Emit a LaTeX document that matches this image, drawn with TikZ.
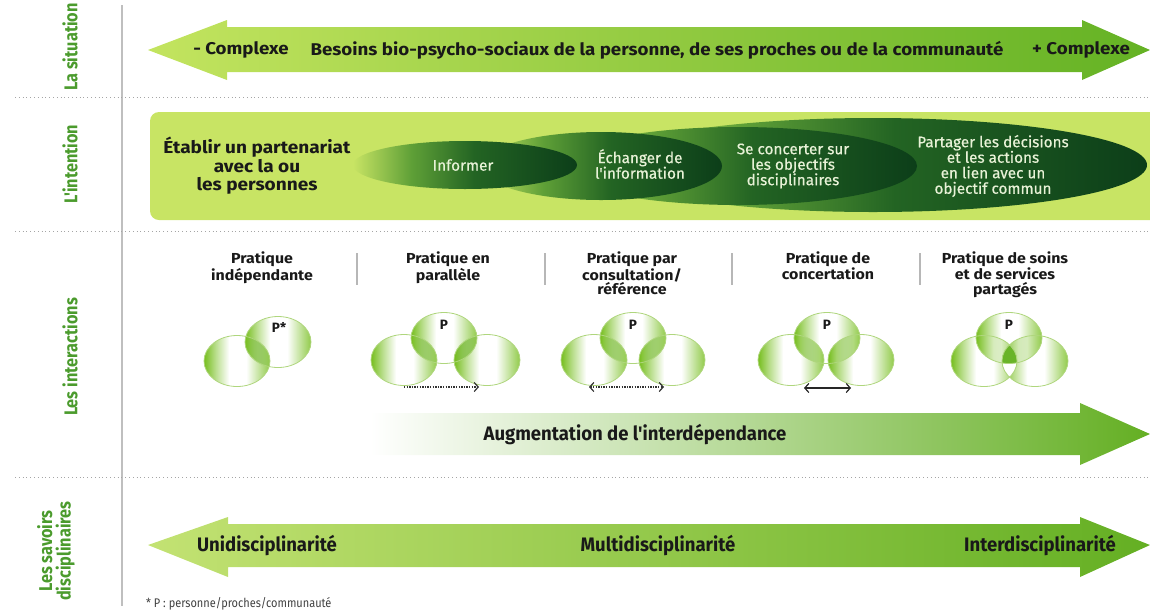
\documentclass[tikz,border=0pt]{standalone}
\usepackage{fontspec}
\setmainfont{Fira Sans}
\newfontfamily\condfont[FakeStretch=0.88]{Fira Sans}
\newfontfamily\cndfont[FakeStretch=0.95]{Fira Sans}
\newfontfamily\widefont[FakeStretch=1.1]{Fira Sans}
\newfontfamily\medfont[FakeBold=0.5]{Fira Sans}
\usetikzlibrary{arrows.meta}
\definecolor{lab}{RGB}{75,155,45}
\definecolor{txt}{RGB}{25,25,25}
\definecolor{arrL}{RGB}{195,228,95}
\definecolor{arrR}{RGB}{100,178,36}
\definecolor{band}{RGB}{200,228,100}
\definecolor{dgA}{RGB}{95,160,55}
\definecolor{dgB}{RGB}{35,100,35}
\definecolor{dgC}{RGB}{12,62,25}
\definecolor{etxt}{RGB}{232,242,215}
\definecolor{vg}{RGB}{118,190,30}
\definecolor{vout}{RGB}{175,214,125}
\definecolor{sepgray}{RGB}{165,165,165}
\definecolor{augR}{RGB}{100,175,35}
\definecolor{botL}{RGB}{195,226,115}
\definecolor{vcore}{RGB}{105,180,40}

\pgfdeclarehorizontalshading{darkell}{100bp}{color(0bp)=(band); color(25bp)=(band); color(38bp)=(dgA); color(52bp)=(dgB); color(75bp)=(dgC); color(100bp)=(dgC)}
\pgfdeclarehorizontalshading{venn}{100bp}{color(0bp)=(vg); color(25bp)=(vg); color(34bp)=(vg!50!white); color(44bp)=(white); color(57bp)=(white); color(67bp)=(vg!45!white); color(75bp)=(vg!80!white); color(100bp)=(vg!80!white)}

\tikzset{
  lbl/.style={text=lab, font=\condfont\bfseries\fontsize{18.5}{19.5}\selectfont, rotate=90, inner sep=0pt, align=center},
  toptxt/.style={text=txt, font=\widefont\bfseries\fontsize{17}{20}\selectfont, inner sep=0pt},
  inttxt/.style={text=txt, font=\widefont\bfseries\fontsize{17.3}{18.5}\selectfont, inner sep=0pt, align=center},
  elltxt/.style={text=etxt, font=\medfont\fontsize{15.3}{15.5}\selectfont, inner sep=0pt, align=center},
  headtxt/.style={text=txt, font=\widefont\bfseries\fontsize{14.5}{14.5}\selectfont, inner sep=0pt, align=center, anchor=north},
  ptxt/.style={text=txt, font=\bfseries\fontsize{13.5}{14}\selectfont, inner sep=0pt},
  condtxt/.style={text=txt, font=\cndfont\bfseries\fontsize{19.5}{20}\selectfont, inner sep=0pt},
  sepline/.style={sepgray, line width=1pt, dash pattern=on 1pt off 2.8pt},
  colsep/.style={draw=sepgray!80, line width=1.6pt},
  vennfill/.style={shading=venn, blend mode=multiply},
  vennline/.style={draw=vout, line width=0.8pt},
  dotone/.style={line width=1.3pt, black!80, dash pattern=on 1.3pt off 1.3pt, -{Straight Barb[length=4pt,width=9pt,line width=1.2pt]}},
  dottwo/.style={line width=1.3pt, black!80, dash pattern=on 1.3pt off 1.3pt, {Straight Barb[length=4pt,width=9pt,line width=1.2pt]}-{Straight Barb[length=4pt,width=9pt,line width=1.2pt]}},
  plainarr/.style={line width=1.2pt, black!85, {Straight Barb[length=4pt,width=9pt]}-{Straight Barb[length=4pt,width=9pt]}}
}

\begin{document}
\begin{tikzpicture}[x=1pt,y=-1pt]
\useasboundingbox (0,0) rectangle (1150,611);

% frame lines
\draw[black!25, line width=1.5pt] (122,5) -- (122,606);
\draw[sepline] (15,97) -- (1150,97);
\draw[sepline] (15,231) -- (1150,231);
\draw[sepline] (15,477) -- (1150,477);

% left labels
\node[lbl] (lsit) at (70,47) {La situation};
\node[lbl] (lint) at (70,164) {L'intention};
\node[lbl] (linter) at (70,357) {Les interactions};
\node[lbl] (lsav) at (56,551) {Les savoirs\\[-1pt]disciplinaires};

% top arrow
\shade[left color=arrL, right color=arrR] (148,50) -- (227,20) -- (227,27) -- (1082,27) -- (1082,20) -- (1150,50) -- (1082,80) -- (1082,72) -- (227,72) -- (227,80) -- cycle;
\node[toptxt] (tminus) at (241,50) {- Complexe};
\node[toptxt] (tbes) at (657,50) {Besoins bio-psycho-sociaux de la personne, de ses proches ou de la communauté};
\node[toptxt] (tplus) at (1081,50) {+ Complexe};

% intention band
\begin{scope}
  \clip (0,0) rectangle (1150,611);
  \fill[band, rounded corners=9pt] (150,112) rectangle (1170,220);
\end{scope}
\shade[shading=darkell] (873,165) ellipse [x radius=274pt, y radius=47pt];
\shade[shading=darkell] (738,166) ellipse [x radius=179pt, y radius=39pt];
\shade[shading=darkell] (601,166) ellipse [x radius=121pt, y radius=34pt];
\shade[shading=darkell] (465,165) ellipse [x radius=112pt, y radius=24pt];
\node[inttxt] (etab) at (257,166) {Établir un partenariat\\avec la ou\\les personnes};
\node[elltxt] (einf) at (463,165) {Informer};
\node[elltxt] (eech) at (640,164) {Échanger de\\l'information};
\node[elltxt] (econ) at (793,166) {Se concerter sur\\les objectifs\\disciplinaires};
\node[elltxt] (epar) at (993,166) {Partager les décisions\\et les actions\\en lien avec un\\objectif commun};

% interaction headers
\node[headtxt] (h1) at (262,252) {Pratique\\indépendante};
\node[headtxt] (h2) at (448,252) {Pratique en\\parallèle};
\node[headtxt] (h3) at (632,252) {Pratique par\\consultation/\\référence};
\node[headtxt] (h4) at (828,252) {Pratique de\\concertation};
\node[headtxt] (h5) at (1005,252) {Pratique de soins\\et de services\\partagés};
\draw[colsep] (357,253) -- (357,285);
\draw[colsep] (545,253) -- (545,285);
\draw[colsep] (732,253) -- (732,285);
\draw[colsep] (920,253) -- (920,285);

% venn shapes
\foreach \c/\cy in {237/361, 278/342, 404/360, 444/338, 487/360, 594/360, 633/338, 672/360, 791/360, 827/338, 861/360, 984/361, 1009/338, 1035/361}{
  \shade[vennfill] (\c,\cy) ellipse [x radius=33pt, y radius=25.5pt];}
\begin{scope}
  \clip (984,361) ellipse [x radius=33pt, y radius=25.5pt];
  \clip (1035,361) ellipse [x radius=33pt, y radius=25.5pt];
  \fill[white] (950,300) rectangle (1070,400);
  \clip (1009,338) ellipse [x radius=33pt, y radius=25.5pt];
  \fill[vcore] (950,300) rectangle (1070,400);
\end{scope}
\foreach \c/\cy in {237/361, 278/342, 404/360, 444/338, 487/360, 594/360, 633/338, 672/360, 791/360, 827/338, 861/360, 984/361, 1009/338, 1035/361}{
  \draw[vennline] (\c,\cy) ellipse [x radius=33pt, y radius=25.5pt];}
\node[ptxt] (p1) at (279,327) {P*};
\node[ptxt] (p2) at (444,325) {P};
\node[ptxt] (p3) at (633,325) {P};
\node[ptxt] (p4) at (827,325) {P};
\node[ptxt] (p5) at (1009,325) {P};

\coordinate (a2s) at (404,387); \coordinate (a2e) at (479,387);
\coordinate (a3s) at (589,387); \coordinate (a3e) at (664,387);
\coordinate (a4s) at (804,388); \coordinate (a4e) at (851,388);
\draw[dotone] (a2s) -- (a2e);
\draw[dottwo] (a3s) -- (a3e);
\draw[plainarr] (a4s) -- (a4e);

% augmentation arrow
\shade[left color=white, right color=augR] (370,413) -- (1080,413) -- (1080,403) -- (1150,434) -- (1080,465) -- (1080,455) -- (370,455) -- cycle;
\node[condtxt] (aug) at (635,435) {Augmentation de l'interdépendance};

% bottom arrow
\shade[left color=botL, right color=augR] (148,545) -- (228,517) -- (228,524) -- (1080,524) -- (1080,517) -- (1150,545) -- (1080,577) -- (1080,567) -- (228,567) -- (228,577) -- cycle;
\node[condtxt] (uni) at (267,546) {Unidisciplinarité};
\node[condtxt] (multi) at (658,546) {Multidisciplinarité};
\node[condtxt] (inter) at (1040,546) {Interdisciplinarité};

\node[anchor=west, inner sep=0pt, text=black!75, font=\condfont\fontsize{12.5}{13}\selectfont] (foot) at (146,604) {* P : personne/proches/communauté};
\end{tikzpicture}
\end{document}
